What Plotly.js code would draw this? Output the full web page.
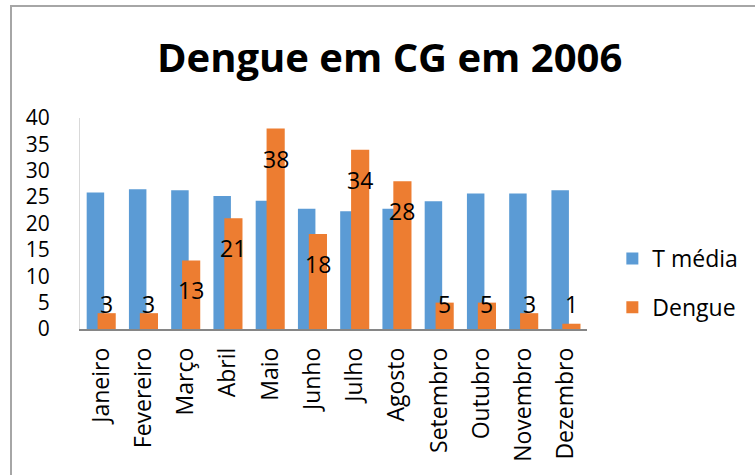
<!DOCTYPE html>
<html>
<head>
<meta charset="utf-8">
<script src="https://cdn.plot.ly/plotly-3.0.1.min.js"></script>
<style>
  html, body { margin: 0; padding: 0; background: #fff; }
  #wrap { position: relative; width: 755px; height: 475px; overflow: hidden; }
  #chart { width: 755px; height: 475px; }
  #frame { position: absolute; left: 10px; top: 5px; width: 900px; height: 700px;
           border: 2px solid #a6a6a6; pointer-events: none; box-sizing: border-box; }
</style>
</head>
<body>
<div id="wrap">
  <div id="chart"></div>
  <div id="frame"></div>
</div>
<script>
const months = ["Janeiro","Fevereiro","Março","Abril","Maio","Junho","Julho","Agosto","Setembro","Outubro","Novembro","Dezembro"];
const tMedia = [25.9, 26.5, 26.3, 25.2, 24.3, 22.8, 22.3, 22.8, 24.2, 25.7, 25.7, 26.3];
const dengue = [3, 3, 13, 21, 38, 18, 34, 28, 5, 5, 3, 1];

const FONT = "'Open Sans', sans-serif";

const traces = [
  {
    type: "bar", name: "T média", x: months, y: tMedia,
    marker: { color: "#5b9bd5" }, offset: -0.342, width: 0.414,
    legendgroup: "a", hoverinfo: "x+y"
  },
  {
    type: "bar", name: "Dengue", x: months, y: dengue,
    marker: { color: "#ed7d31" }, offset: -0.084, width: 0.43,
    legendgroup: "b", hoverinfo: "x+y"
  }
];

const annotations = dengue.map((v, i) => ({
  x: i + 0.132, y: Math.max(v, 10.4), xref: "x", yref: "y",
  text: String(v), showarrow: false, yshift: -30,
  xanchor: "center", yanchor: "middle",
  font: { family: FONT, size: 23, color: "#000" }
}));

const layout = {
  width: 755, height: 475,
  margin: { l: 80, r: 165, t: 118, b: 146 },
  paper_bgcolor: "#fff", plot_bgcolor: "#fff",
  barmode: "overlay",
  title: {
    text: "<b>Dengue em CG em 2006</b>",
    xref: "container", x: 0.516, xanchor: "center",
    yref: "container", y: 0.878, yanchor: "middle",
    font: { family: FONT, size: 40, color: "#000" }
  },
  xaxis: {
    type: "category", tickangle: -90,
    showline: true, linecolor: "#868686", linewidth: 1.5,
    ticks: "", showgrid: false, zeroline: false,
    tickfont: { family: FONT, size: 23, color: "#000" },
    ticklabelstandoff: 8
  },
  yaxis: {
    range: [0, 40], dtick: 5, tick0: 0,
    showline: true, linecolor: "#d9d9d9", linewidth: 1,
    showgrid: false, zeroline: false, ticks: "",
    tickfont: { family: FONT, size: 21, color: "#000" },
    ticklabelstandoff: 25
  },
  legend: {
    x: 1.05, xanchor: "left", y: 0.218, yanchor: "middle",
    font: { family: FONT, size: 23, color: "#000" },
    traceorder: "grouped", tracegroupgap: 16,
    bgcolor: "rgba(0,0,0,0)"
  },
  annotations: annotations,
  showlegend: true
};

Plotly.newPlot("chart", traces, layout, { displayModeBar: false, staticPlot: true });
</script>
</body>
</html>
